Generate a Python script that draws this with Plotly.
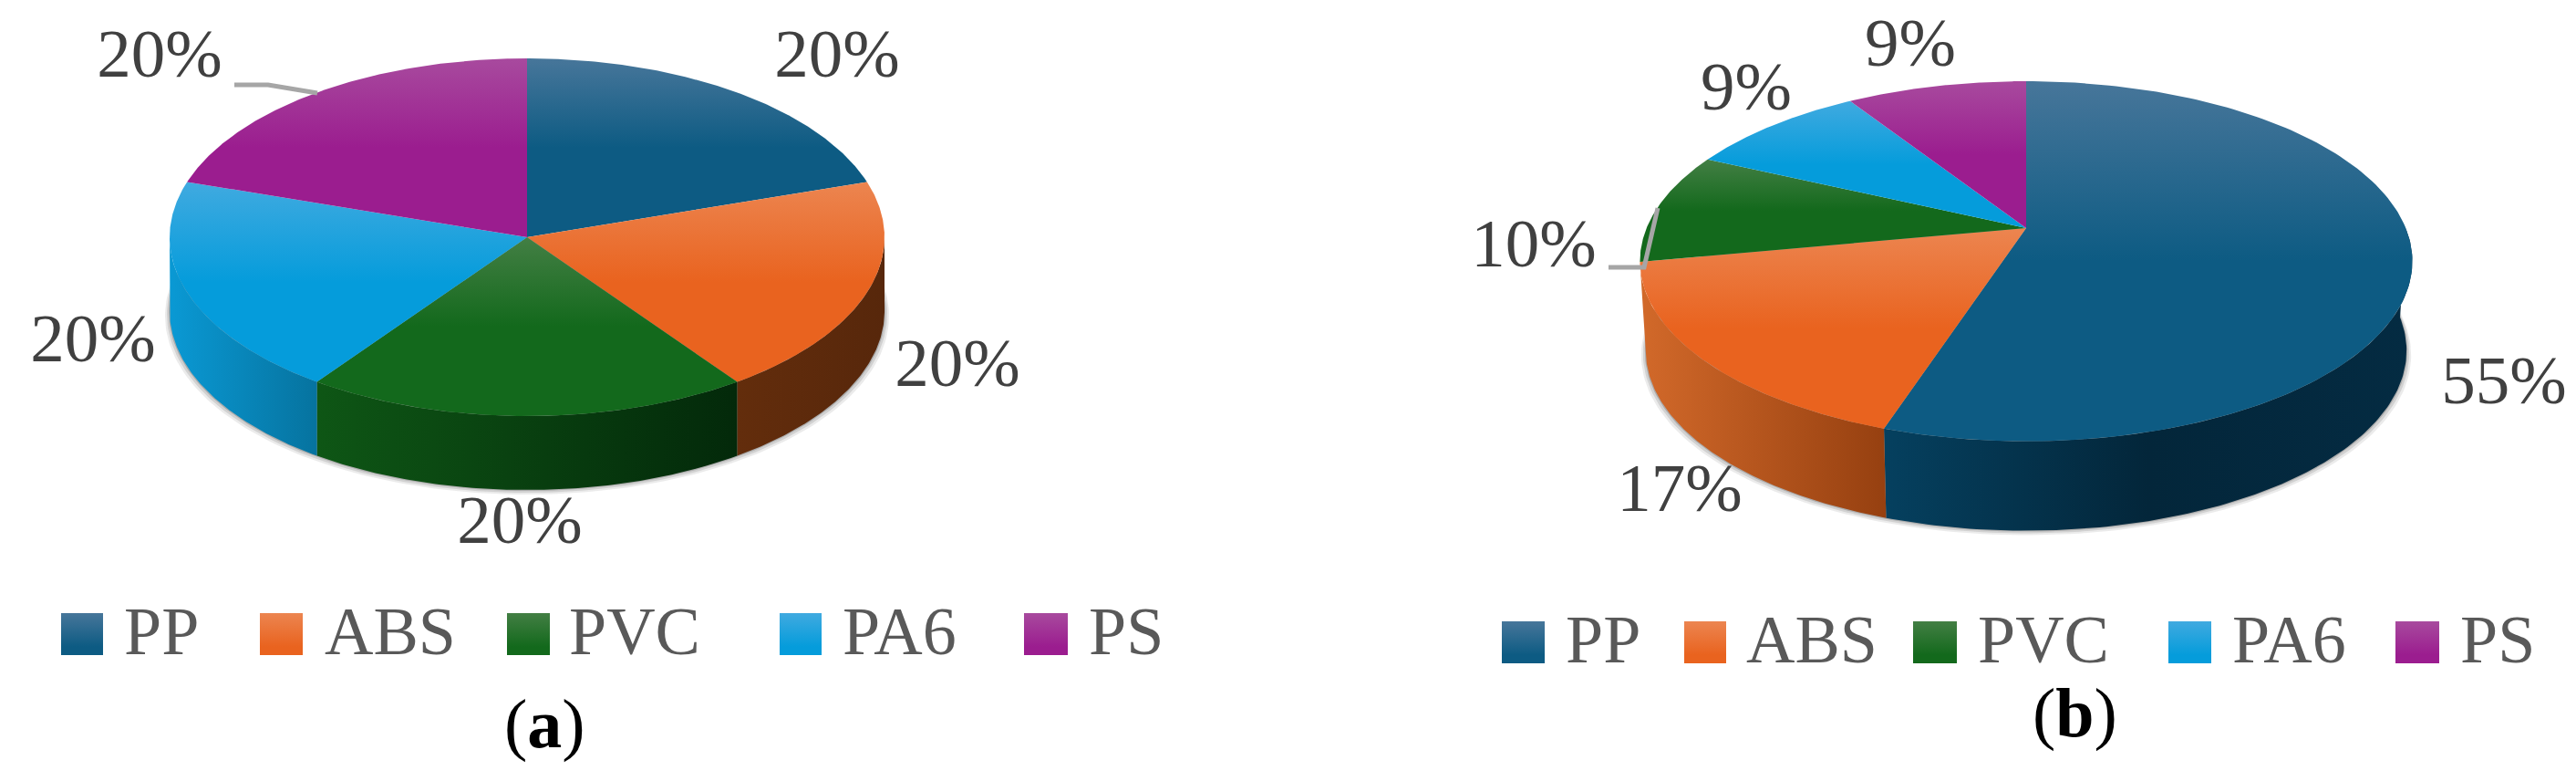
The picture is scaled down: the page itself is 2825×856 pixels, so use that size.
import numpy as np
import plotly.graph_objects as go

# data
materiales = ["PP", "ABS", "PVC", "PA6", "PS"]
valores_a = [20, 20, 20, 20, 20]
valores_b = [55, 17, 10, 9, 9]

# colours per material: light top of gradient, base colour
claros = ["#47769a", "#ec8550", "#437f44", "#40aae0", "#a84a9e"]
bases = ["#0d5b83", "#e9631f", "#13691c", "#059cdb", "#9b1d8f"]

# wall colours (left to right) per chart
paredes_a = {1: ["#632d0c", "#57270b"], 2: ["#0e5615", "#03290a"], 3: ["#0a99d4", "#06739f"]}
paredes_b = {0: ["#05405f", "#03263a", "#042b42"], 1: ["#d2692a", "#964010"]}

# label positions in page pixels
etiquetas_a = [(918, 65), (1050, 404), (570, 576), (102, 377), (175, 65)]
etiquetas_b = [(2746, 423), (1842, 541), (1682, 273), (1915, 101), (2095, 53)]

leyenda_a = [(67, 113, 134), (285, 332, 354), (556, 603, 622), (855, 901, 922), (1123, 1171, 1192)]
leyenda_b = [(1647, 1694, 1715), (1847, 1893, 1913), (2098, 2146, 2167), (2378, 2425, 2446), (2627, 2675, 2696)]

FUENTE = "Liberation Serif"

fig = go.Figure()


def proyectar(grados, torta, bajo=False):
    """Circle point to page pixels, with a small perspective term k."""
    t = np.radians(grados)
    u, v = np.sin(t), -np.cos(t)
    d = 1 - torta["k"] * v
    x = torta["A"] * u / d
    y = torta["B"] * v / d
    if bajo:
        return torta["cx"] + x * torta["encoge"], torta["cy"] + y + torta["alto"]
    return torta["cx"] + x, torta["cy"] + y


def poligono(x, y, nombre, gradiente=None, color=None):
    fig.add_trace(go.Scatter(
        x=list(x), y=list(y), mode="lines", fill="toself", name=nombre,
        line=dict(width=0), fillcolor=color, fillgradient=gradiente,
        showlegend=False, hoverinfo="skip"
    ))


def dibujar_torta(valores, torta, paredes):
    total = sum(valores)
    cortes = np.cumsum([0] + valores) / total * 360

    # soft shadow under the walls
    for extra, alfa in [(5, 0.10), (3, 0.15), (1, 0.25)]:
        ang = np.linspace(60, 300, 200)
        sx, sy = proyectar(ang, torta, bajo=True)
        sx = torta["cx"] + (sx - torta["cx"]) * (1 + extra / torta["A"])
        poligono(np.r_[sx, torta["cx"]], np.r_[sy + extra, torta["cy"]], "sombra", color=f"rgba(60,60,60,{alfa})")

    # walls, only the part that faces the viewer
    for i, cols in paredes.items():
        ini, fin = max(cortes[i], 90), min(cortes[i + 1], 270)
        ang = np.linspace(ini, fin, 120)
        x1, y1 = proyectar(ang, torta)
        x2, y2 = proyectar(ang[::-1], torta, bajo=True)
        x = np.r_[x1, x2]
        y = np.r_[y1, y2]
        escala = [[j / (len(cols) - 1), c] for j, c in enumerate(cols)]
        poligono(x, y, materiales[i] + " lado", gradiente=dict(
            type="horizontal", colorscale=escala, start=x.min(), stop=x.max()))

    # top slices
    for i in range(len(valores)):
        ang = np.linspace(cortes[i], cortes[i + 1], 160)
        x, y = proyectar(ang, torta)
        x = np.r_[torta["cx"], x, torta["cx"]]
        y = np.r_[torta["cy"], y, torta["cy"]]
        poligono(x, y, materiales[i], gradiente=dict(
            type="vertical", start=y.min(), stop=y.max(),
            colorscale=[[0, claros[i]], [0.5, bases[i]], [1, bases[i]]]))


def dibujar_textos(valores, etiquetas, leyenda, y_caja, letra, y_letra, x_letra):
    fig.add_trace(go.Scatter(
        x=[p[0] for p in etiquetas], y=[p[1] for p in etiquetas],
        mode="text", text=[f"{v}%" for v in valores], textposition="middle center",
        textfont=dict(family=FUENTE, size=75, color="#404040"),
        showlegend=False, hoverinfo="skip"
    ))
    for i, (x0, x1, xt) in enumerate(leyenda):
        poligono([x0, x1, x1, x0, x0], [y_caja, y_caja, y_caja + 46, y_caja + 46, y_caja], materiales[i],
                 gradiente=dict(type="vertical", start=y_caja, stop=y_caja + 46,
                                colorscale=[[0, claros[i]], [0.8, bases[i]], [1, bases[i]]]))
        fig.add_annotation(x=xt, y=y_caja + 20, text=materiales[i], showarrow=False, xanchor="left",
                           yanchor="middle", xref="x", yref="y",
                           font=dict(family=FUENTE, size=74, color="#595959"))
    fig.add_annotation(x=x_letra, y=y_letra, text=f"(<b>{letra}</b>)", showarrow=False, xanchor="center",
                       yanchor="middle", xref="x", yref="y",
                       font=dict(family=FUENTE, size=76, color="#000000"))


torta_a = dict(cx=578, cy=260, A=392, B=196, k=0.0, alto=81, encoge=1.0)
torta_b = dict(cx=2222, cy=250, A=416.3, B=190.6, k=0.184, alto=98, encoge=0.985)

dibujar_torta(valores_a, torta_a, paredes_a)
dibujar_torta(valores_b, torta_b, paredes_b)

# leader lines
for lx, ly in [([257, 294, 348], [93, 93, 102]), ([1764, 1803, 1818], [293, 293, 228])]:
    fig.add_trace(go.Scatter(x=lx, y=ly, mode="lines", line=dict(color="#a6a6a6", width=5),
                             showlegend=False, hoverinfo="skip"))

dibujar_textos(valores_a, etiquetas_a, leyenda_a, 672, "a", 793, 597)
dibujar_textos(valores_b, etiquetas_b, leyenda_b, 681, "b", 781, 2275)

fig.update_layout(
    width=2825, height=856, autosize=False,
    margin=dict(l=0, r=0, t=0, b=0),
    paper_bgcolor="white", plot_bgcolor="white",
    xaxis=dict(range=[0, 2825], visible=False),
    yaxis=dict(range=[856, 0], visible=False),
)

fig.write_html("out.html", config=dict(displayModeBar=False),
               post_script="document.body.style.margin='0';document.body.style.overflow='hidden';")
